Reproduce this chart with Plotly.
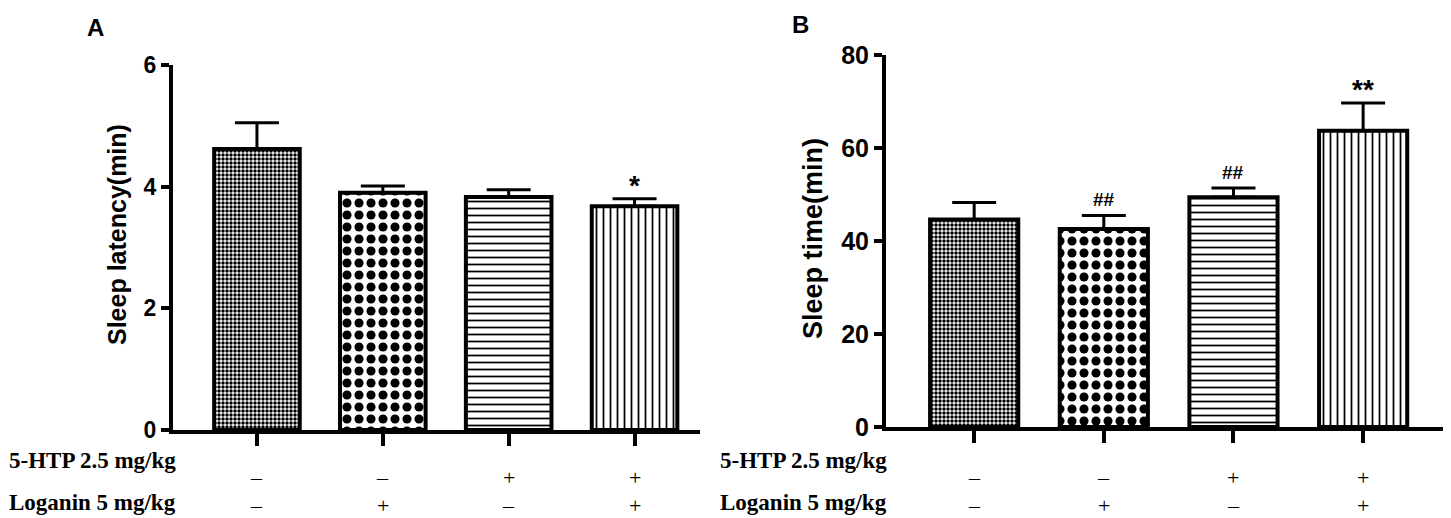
import plotly.graph_objects as go

# groups and treatment signs
groups = ["Control", "Loganin", "5-HTP", "5-HTP+Loganin"]
htp_signs = ["\u2013", "\u2013", "+", "+"]
loganin_signs = ["\u2013", "+", "\u2013", "+"]

# panel A: sleep latency (min)
latency_mean = [4.62, 3.90, 3.83, 3.68]
latency_sem = [0.43, 0.11, 0.12, 0.12]
latency_marks = ["", "", "", "*"]

# panel B: sleep time (min)
sleeptime_mean = [44.6, 42.6, 49.4, 63.7]
sleeptime_sem = [3.7, 2.9, 2.0, 6.0]
sleeptime_marks = ["", "##", "##", "**"]

# the page body adds an 8px margin, so shrink the figure and place things in window pixels
OFF = 8
W, H = 1451 - OFF, 518 - OFF


def px(x):
    return (x - OFF) / W


def py(y):
    return 1 - (y - OFF) / H


patterns = [
    dict(shape=".", size=4, solidity=0.6),
    dict(shape=".", size=12, solidity=0.45),
    dict(shape="-", size=7, solidity=0.25),
    dict(shape="|", size=7, solidity=0.25),
]
for p in patterns:
    p.update(fgcolor="black", bgcolor="white", fgopacity=1)

fig = go.Figure()


def add_panel(means, sems, xa, ya):
    for i, g in enumerate(groups):
        fig.add_trace(go.Bar(
            x=[g], y=[means[i]], width=0.68,
            marker=dict(color="white", pattern=patterns[i],
                        line=dict(color="black", width=4)),
            error_y=dict(type="data", symmetric=False, array=[sems[i]], arrayminus=[0],
                         color="black", thickness=3, width=22),
            xaxis=xa, yaxis=ya, showlegend=False,
        ))


add_panel(latency_mean, latency_sem, "x", "y")
add_panel(sleeptime_mean, sleeptime_sem, "x2", "y2")

axis_common = dict(showline=True, linecolor="black", linewidth=4, ticks="outside",
                   tickcolor="black", tickwidth=4, showgrid=False, zeroline=False,
                   automargin=False)


def tickfont(size):
    return dict(family="Liberation Sans", size=size, color="black", weight="bold")


fig.update_layout(
    width=W, height=H,
    margin=dict(l=0, r=0, t=0, b=0, autoexpand=False),
    plot_bgcolor="white", paper_bgcolor="white",
    barmode="overlay",
    xaxis=dict(domain=[px(173), px(700)], type="category", range=[-0.667, 3.52],
               showticklabels=False, ticklen=12, anchor="y", **axis_common),
    yaxis=dict(domain=[py(430), py(65)], range=[0, 6], dtick=2, ticklen=8,
               tickfont=tickfont(23), anchor="x", **axis_common),
    xaxis2=dict(domain=[px(886), min(px(1450), 1)], type="category", range=[-0.68, 3.67],
                showticklabels=False, ticklen=12, anchor="y2", **axis_common),
    yaxis2=dict(domain=[py(427), py(55)], range=[0, 80], dtick=20, ticklen=8,
                tickfont=tickfont(25), anchor="x2", **axis_common),
)

bold = dict(family="Liberation Sans", color="black", weight="bold")
serif_bold = dict(family="Liberation Serif", size=23, color="black", weight="bold")
serif = dict(family="Liberation Serif", size=22, color="black")

ann = []
# panel letters
ann.append(dict(text="A", x=px(95), y=py(12), yanchor="top", font=dict(size=24, **bold)))
ann.append(dict(text="B", x=px(800), y=py(9), yanchor="top", font=dict(size=24, **bold)))
# y titles
ann.append(dict(text="Sleep latency(min)", x=px(117), y=py(234), textangle=-90,
                font=dict(size=25, **bold)))
ann.append(dict(text="Sleep time(min)", x=px(813), y=py(239), textangle=-90,
                font=dict(size=27, **bold)))
# treatment rows
for x0 in (px(92), px(803)):
    ann.append(dict(text="5-HTP 2.5 mg/kg", x=x0, y=py(460), font=serif_bold))
    ann.append(dict(text="Loganin 5 mg/kg", x=x0, y=py(502), font=serif_bold))
for xa in ("x", "x2"):
    for i, g in enumerate(groups):
        ann.append(dict(text=htp_signs[i], x=g, xref=xa, y=py(477), font=serif))
        ann.append(dict(text=loganin_signs[i], x=g, xref=xa, y=py(505), font=serif))
# significance marks
for means, sems, marks, xa, ya in ((latency_mean, latency_sem, latency_marks, "x", "y"),
                                   (sleeptime_mean, sleeptime_sem, sleeptime_marks, "x2", "y2")):
    for i, g in enumerate(groups):
        if marks[i]:
            star = "*" in marks[i]
            ann.append(dict(text=marks[i], x=g, xref=xa, y=means[i] + sems[i], yref=ya,
                            yanchor="bottom", yshift=-4 if star else 3,
                            font=dict(size=28 if star else 19, **bold)))

for a in ann:
    a.setdefault("xref", "paper")
    a.setdefault("yref", "paper")
    a.setdefault("xanchor", "center")
    a.setdefault("yanchor", "middle")
    a["showarrow"] = False
fig.update_layout(annotations=ann)

fig.write_html("out.html")
